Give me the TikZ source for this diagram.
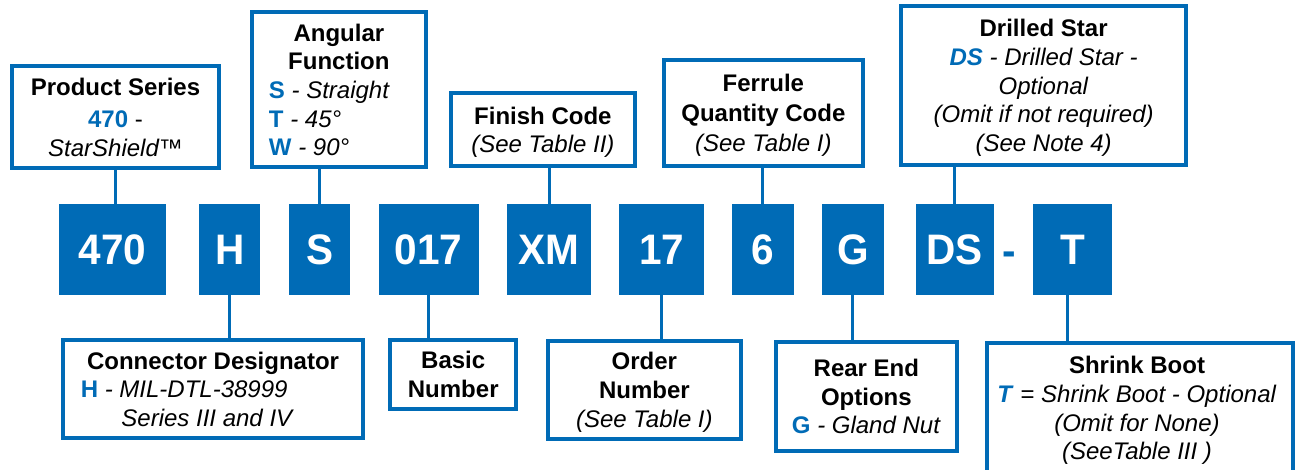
\documentclass[tikz,border=0pt]{standalone}
\usepackage{fontspec}
\setmainfont{Liberation Sans}
\newfontfamily\codefont{Liberation Sans}[FakeStretch=0.95]
\definecolor{cblue}{HTML}{006BB6}
\newcommand\blu[1]{\textcolor{cblue}{\textbf{#1}}}
\newcommand\blit[1]{\textcolor{cblue}{\textbf{\textit{#1}}}}
\tikzset{
  sz/.style 2 args={minimum width=#1*0.75pt, minimum height=#2*0.75pt},
  code/.style={fill=cblue, text=white, inner sep=0pt, font=\codefont\bfseries\fontsize{32}{36}\selectfont},
  lbox/.style={draw=cblue, line width=3pt, fill=white, inner sep=0pt, align=center, text=black, text depth=0pt, font=\fontsize{18}{21.5}\selectfont},
  ltext/.style={inner sep=0pt, align=center, text=black, text depth=0pt, font=\fontsize{18}{21.5}\selectfont},
  conn/.style={draw=cblue, line width=2.25pt},
}
\begin{document}
\begin{tikzpicture}[x=0.75pt,y=-0.75pt]
\useasboundingbox (0,0) rectangle (1296,469);
\fill[white] (0,0) rectangle (1296,469);
\begin{scope}
\clip (0,0) rectangle (1296,469);
% code boxes
\node[code, sz={107}{90.7}]  (c470) at (112.5,249.65) {470};
\node[code, sz={61.3}{90.7}] (cH)   at (229.65,249.65) {H};
\node[code, sz={61.4}{90.7}] (cS)   at (319.6,249.65) {S};
\node[code, sz={100.3}{90.7}] (c017) at (428.65,249.65) {017};
\node[code, sz={84}{90.7}]   (cXM)  at (549,249.65) {XM};
\node[code, sz={84.7}{90.7}] (c17)  at (661.65,249.65) {17};
\node[code, sz={61.7}{90.7}] (c6)   at (762.85,249.65) {6};
\node[code, sz={61.7}{90.7}] (cG)   at (852.85,249.65) {G};
\node[code, sz={78}{90.7}]   (cDS)  at (954.7,249.65) {DS};
\node[code, sz={78.4}{90.7}] (cT)   at (1072.5,249.65) {T};
\node[inner sep=0pt, anchor=base, text=cblue, font=\codefont\bfseries\fontsize{32}{36}\selectfont] (dash) at (1009.5,265.5) {-};

% top label boxes
\node[lbox, sz={207}{101.7}] (ps) at (115.5,117.15)
  {\textbf{Product Series}\\[3pt]\blu{470} -\\\textit{StarShield™}};
\node[lbox, sz={173.7}{155.3}] (af) at (338.85,89.65)
  {\textbf{Angular}\\\textbf{Function}\\
   \makebox[104.8pt][l]{\blu{S} \textit{- Straight}}\\
   \makebox[104.8pt][l]{\blu{T} \textit{- 45°}}\\
   \makebox[104.8pt][l]{\blu{W} \textit{- 90°}}};
\node[lbox, sz={183.7}{73.3}] (fc) at (542.85,129.65)
  {\textbf{Finish Code}\\\textit{(See Table II)}};
\node[lbox, sz={199.3}{105.4}, font=\fontsize{18}{22.5}\selectfont] (fq) at (763.35,113)
  {\textbf{Ferrule}\\\textbf{Quantity Code}\\\textit{(See Table I)}};
\node[lbox, sz={285.3}{158.4}] (dst) at (1043.65,85.5)
  {\textbf{Drilled Star}\\\blit{DS} \textit{- Drilled Star -}\\\textit{Optional}\\\textit{(Omit if not required)}\\\textit{(See Note 4)}};

% bottom label boxes
\node[lbox, sz={299.5}{97.7}] (cd) at (213.05,389.15)
  {\textbf{Connector Designator}\\
   \makebox[198.4pt][l]{\blu{H} \textit{- MIL-DTL-38999}}\\
   \makebox[198.4pt][l]{\hspace{30.5pt}\textit{Series III and IV}}};
\node[lbox, sz={125.7}{68.4}] (bn) at (453.25,374.5)
  {\textbf{Basic}\\\textbf{Number}};
\node[lbox, sz={193.8}{97.7}] (on) at (644.4,389.85)
  {\textbf{Order}\\\textbf{Number}\\\textit{(See Table I)}};
\node[lbox, sz={180.7}{108.7}] (re) at (866.35,396.35)
  {\textbf{Rear End}\\\textbf{Options}\\\blu{G} \textit{- Gland Nut}};
\draw[cblue, line width=3pt] (987,480) -- (987,342.5) -- (1293,342.5) -- (1293,480);
\coordinate (sbtop) at (1067.7,342.5);
\node[ltext] (sb) at (1137,408)
  {\textbf{Shrink Boot}\\\blit{T} = \textit{Shrink Boot - Optional}\\\textit{(Omit for None)}\\\textit{(SeeTable III )}};

% connectors
\draw[conn] (ps.south) -- (ps.south |- c470.north);
\draw[conn] (cS.north) -- (cS.north |- af.south);
\draw[conn] (cXM.north) -- (cXM.north |- fc.south);
\draw[conn] (c6.north) -- (c6.north |- fq.south);
\draw[conn] (cDS.north) -- (cDS.north |- dst.south);
\draw[conn] (cH.south) -- (cH.south |- cd.north);
\draw[conn] (c017.south) -- (c017.south |- bn.north);
\draw[conn] (c17.south) -- (c17.south |- on.north);
\draw[conn] (cG.south) -- (cG.south |- re.north);
\draw[conn] (cT.south -| sbtop) -- (sbtop);
\end{scope}
\end{tikzpicture}
\end{document}
